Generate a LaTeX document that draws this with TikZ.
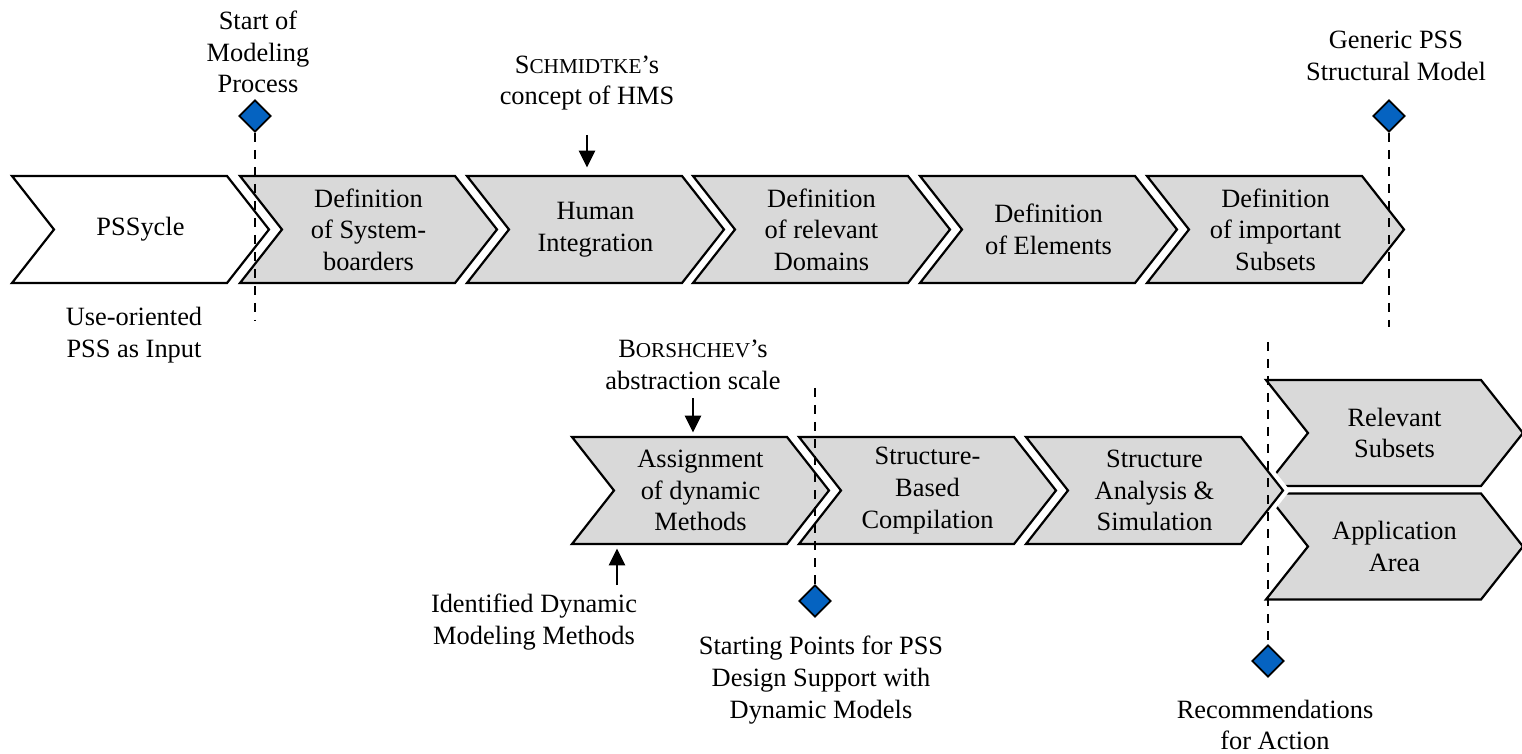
\documentclass[tikz,border=0pt]{standalone}
\usepackage{fontspec}
\setmainfont{Liberation Serif}
\usetikzlibrary{arrows.meta,shapes.geometric}

\definecolor{chevgray}{HTML}{D9D9D9}
\definecolor{msblue}{HTML}{0563C1}

\newcommand\lbl{\fontsize{13.2pt}{15.8pt}\selectfont}
\newcommand\fakesc[1]{{\fontsize{10.6pt}{12pt}\selectfont #1}}

\tikzset{
  chevshape/.style={draw=black, line width=1.1pt, line join=miter, fill=#1},
  halo/.style={preaction={draw=white, line width=5.5pt}},
  chevlabel/.style={minimum width=128.5pt, minimum height=53.5pt, inner sep=0pt,
    align=center, font=\lbl},
  caption/.style={inner sep=0pt, align=center, font=\lbl},
  milestone/.style={diamond, draw=black, line width=0.9pt, fill=msblue,
    minimum width=16pt, minimum height=16pt, inner sep=0pt},
  guide/.style={draw=black, line width=1.3pt, dash pattern=on 4.5pt off 4pt},
  feed/.style={draw=black, line width=1.3pt, -{Triangle[length=8.5pt,width=8pt]}},
}

% #1 name, #2 left x, #3 middle y, #4 half height, #5 path style, #6 text
\newcommand\chevron[6]{%
  \path[#5] (#2,#3-#4) -- ++(215,0) -- ++(42,#4) -- ++(-42,#4) -- ++(-215,0)
    -- ++(42,-#4) -- cycle;
  \node[chevlabel] (#1) at (#2+128.5,#3) {#6};
}

\begin{document}
\begin{tikzpicture}[x=0.5pt,y=-0.5pt]
\useasboundingbox (0,0) rectangle (1522,754);

% upper process row
\chevron{pssycle}{12}{229.5}{53.5}{chevshape=white}{PSSycle}
\chevron{sysbound}{240}{229.5}{53.5}{chevshape=chevgray}{Definition\\of System-\\boarders}
\chevron{human}{467}{229.5}{53.5}{chevshape=chevgray}{Human\\Integration}
\chevron{domains}{693}{229.5}{53.5}{chevshape=chevgray}{Definition\\of relevant\\Domains}
\chevron{elements}{920}{229.5}{53.5}{chevshape=chevgray}{Definition\\of Elements}
\chevron{subsets}{1147}{229.5}{53.5}{chevshape=chevgray}{Definition\\of important\\Subsets}

% results on the right
\chevron{relsub}{1266}{433}{53}{chevshape=chevgray}{Relevant\\Subsets}
\chevron{apparea}{1266}{546.5}{53}{chevshape=chevgray}{Application\\Area}

% lower process row
\chevron{assign}{572}{490.5}{53.5}{chevshape=chevgray}{Assignment\\of dynamic\\Methods}
\chevron{compile}{799}{490.5}{53.5}{chevshape=chevgray}{Structure-\\Based\\Compilation}
\chevron{analysis}{1026}{490.5}{53.5}{chevshape=chevgray,halo}{Structure\\Analysis \&\\Simulation}

% captions
\node[caption] (startlbl) at (258,52) {Start of\\Modeling\\Process};
\node[caption] (uselbl) at (134,335) {Use-oriented\\PSS as Input};
\node[caption] (schlbl) at (587,83) {S\fakesc{CHMIDTKE}’s\\concept of HMS};
\node[caption] (genlbl) at (1396,56) {Generic PSS\\Structural Model};
\node[caption] (borlbl) at (693,365) {B\fakesc{ORSHCHEV}’s\\abstraction scale};
\node[caption] (identlbl) at (534,622) {Identified Dynamic\\Modeling Methods};
\node[caption] (splbl) at (821,680) {Starting Points for PSS\\Design Support with\\Dynamic Models};
\node[caption] (reclbl) at (1275,725) {Recommendations\\for Action};

% milestones
\node[milestone] (ms1) at (255,116) {};
\node[milestone] (ms2) at (1389,116) {};
\node[milestone] (ms3) at (815,601) {};
\node[milestone] (ms4) at (1268,661) {};
\coordinate (ms1end) at (255,320);
\coordinate (ms2end) at (1389,327);
\coordinate (ms3top) at (815,388);
\coordinate (ms4top) at (1268,342);
\draw[guide] (ms1.south) -- (ms1end);
\draw[guide] (ms2.south) -- (ms2end);
\draw[guide] (ms3top) -- (ms3.north);
\draw[guide] (ms4top) -- (ms4.north);

% inputs
\draw[feed, shorten <=12pt, shorten >=4pt] (schlbl.south) -- (schlbl.south |- human.north);
\draw[feed, shorten <=4pt, shorten >=2pt] (borlbl.south) -- (borlbl.south |- assign.north);
\coordinate (identfoot) at (617,585);
\draw[feed, shorten >=2pt] (identfoot) -- (identfoot |- assign.south);
\end{tikzpicture}
\end{document}
